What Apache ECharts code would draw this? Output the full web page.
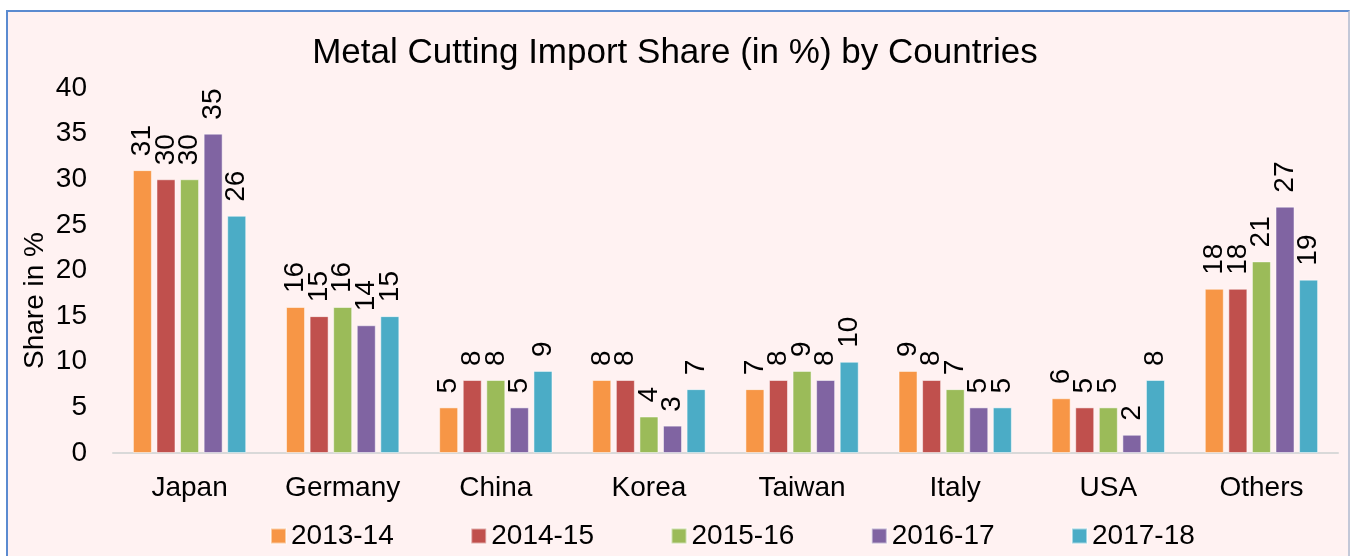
<!DOCTYPE html>
<html>
<head>
<meta charset="utf-8">
<script src="https://cdn.jsdelivr.net/npm/echarts@6/dist/echarts.min.js"></script>
<style>
  html, body { margin: 0; padding: 0; background: #fff; overflow: hidden; }
  .frame {
    position: absolute; left: 6px; top: 10px; width: 1340px; height: 560px;
    background: #fff2f2;
    border-top: 2px solid #5b8bd0; border-left: 2px solid #5b8bd0;
    border-right: 2px solid #c3c8d8;
  }
  #chart { position: absolute; left: 0; top: 0; width: 1350px; height: 556px; }
</style>
</head>
<body>
<div class="frame"></div>
<div id="chart"></div>
<script>
  // 数据
  const countries = ['Japan', 'Germany', 'China', 'Korea', 'Taiwan', 'Italy', 'USA', 'Others'];
  const years = ['2013-14', '2014-15', '2015-16', '2016-17', '2017-18'];
  const y2013 = [31, 16, 5, 8, 7, 9, 6, 18];
  const y2014 = [30, 15, 8, 8, 8, 8, 5, 18];
  const y2015 = [30, 16, 8, 4, 9, 7, 5, 21];
  const y2016 = [35, 14, 5, 3, 8, 5, 2, 27];
  const y2017 = [26, 15, 9, 7, 10, 5, 8, 19];
  const colors = ['#f79646', '#c0504d', '#9bbb59', '#8064a2', '#4bacc6'];

  const font = '"Liberation Sans", Arial, sans-serif';
  const allValues = [y2013, y2014, y2015, y2016, y2017];

  let chart = echarts.init(document.getElementById('chart'));
  chart.setOption({
    backgroundColor: 'transparent',
    color: colors,
    textStyle: { fontFamily: font, color: '#000' },
    title: {
      text: 'Metal Cutting Import Share (in %) by Countries',
      left: 'center',
      top: 31,
      textStyle: { fontSize: 35, fontWeight: 'normal', color: '#000', fontFamily: font }
    },
    legend: {
      data: years,
      left: 265,
      top: 517,
      itemWidth: 15,
      itemHeight: 15,
      itemGap: 76.5,
      icon: 'rect',
      textStyle: { fontSize: 28, color: '#000', fontFamily: font }
    },
    grid: { left: 113, right: 12, top: 88, bottom: 103 },
    xAxis: {
      type: 'category',
      data: countries,
      axisLine: { lineStyle: { color: '#d9d9d9', width: 2 } },
      axisTick: { show: false },
      axisLabel: { fontSize: 28, color: '#000', margin: 21, fontFamily: font }
    },
    yAxis: {
      type: 'value',
      min: 0,
      max: 40,
      interval: 5,
      splitLine: { show: false },
      axisLine: { show: false },
      axisTick: { show: false },
      axisLabel: { fontSize: 28, color: '#000', margin: 26, fontFamily: font }
    },
    graphic: [{
      type: 'text',
      left: 21,
      top: 232,
      rotation: Math.PI / 2,
      style: { text: 'Share in %', fill: '#000', font: '28px ' + font }
    }],
    series: years.map((name, i) => ({
      name: name,
      type: 'bar',
      data: allValues[i],
      barGap: '24%',
      barCategoryGap: '26%',
      itemStyle: { borderColor: 'rgba(255,255,255,0.5)', borderWidth: 1 },
      label: {
        show: true,
        position: 'top',
        rotate: 90,
        align: 'left',
        verticalAlign: 'middle',
        distance: 14,
        fontSize: 28,
        color: '#000',
        fontFamily: font
      }
    }))
  });
</script>
</body>
</html>
